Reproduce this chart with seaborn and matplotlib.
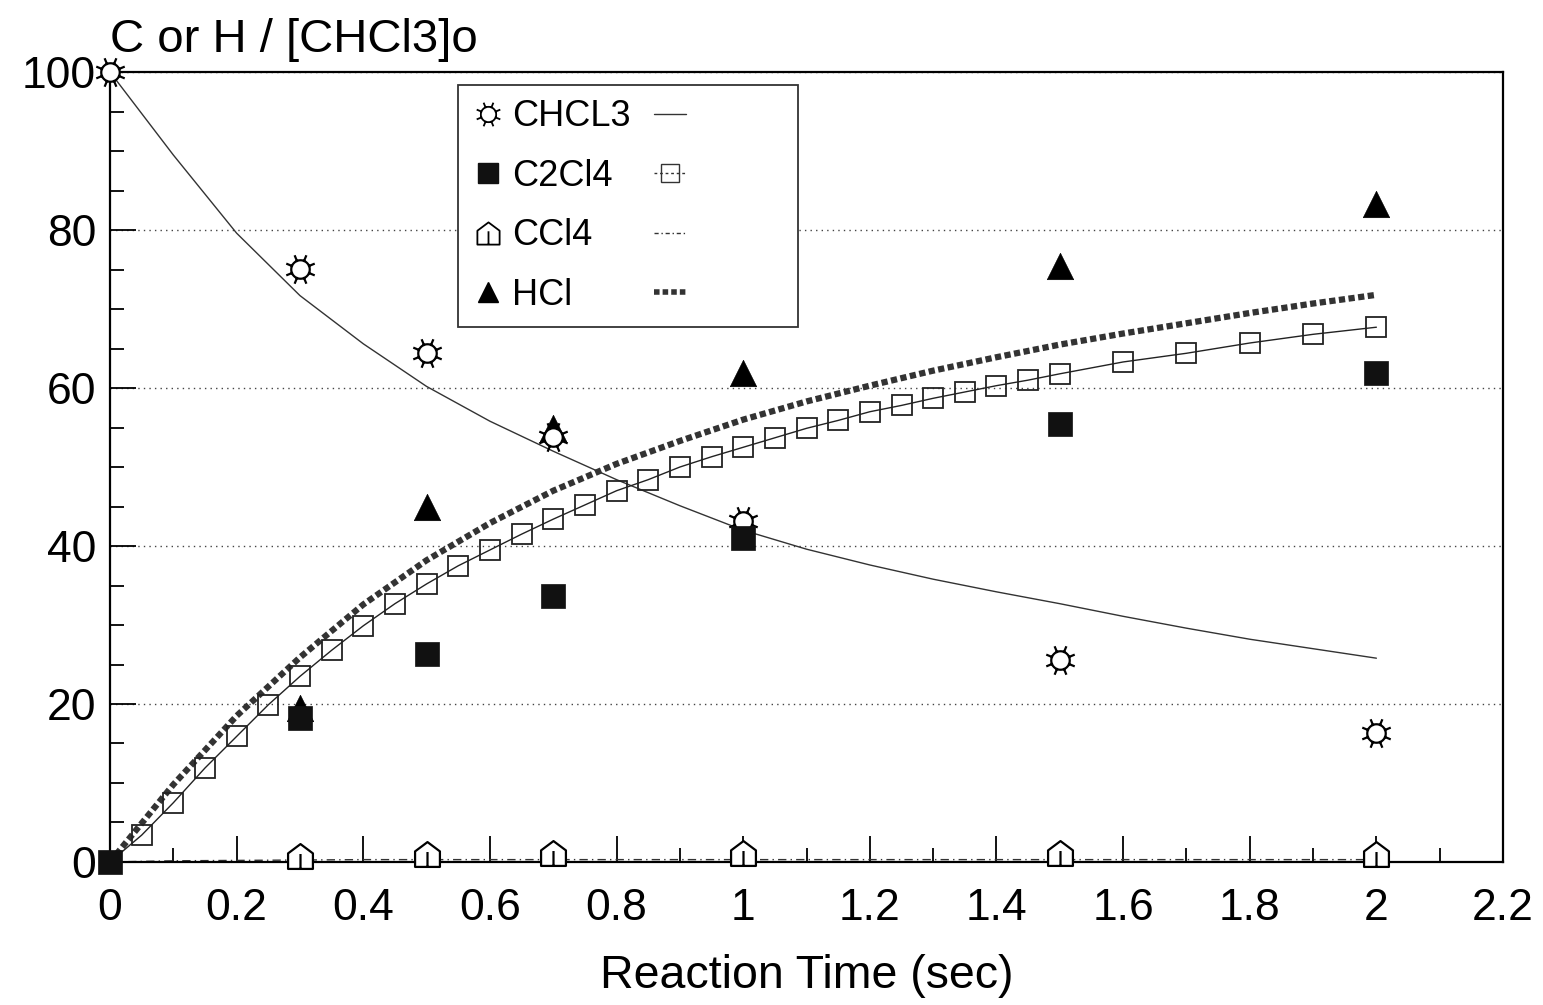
import numpy as np
import pandas as pd
import matplotlib
matplotlib.use("Agg")
import matplotlib.pyplot as plt
from matplotlib.path import Path
from matplotlib.lines import Line2D
from matplotlib.ticker import MultipleLocator
import seaborn as sns

# Measured concentrations (% of initial CHCl3)
t_meas = [0.0, 0.3, 0.5, 0.7, 1.0, 1.5, 2.0]
chcl3_meas = [100.0, 75.1, 64.4, 53.8, 43.2, 25.6, 16.3]
c2cl4_meas = [0.0, 18.2, 26.3, 33.7, 41.0, 55.4, 61.9]
t_ccl4 = [0.3, 0.5, 0.7, 1.0, 1.5, 2.0]
ccl4_meas = [0.8, 1.0, 1.2, 1.1, 1.1, 1.0]
t_hcl = [0.3, 0.5, 0.7, 1.0, 1.5, 2.0]
hcl_meas = [19.5, 45.0, 55.0, 61.9, 75.4, 83.3]

# Model predictions
t_model = [0.0, 0.1, 0.2, 0.3, 0.4, 0.5, 0.6, 0.7, 0.8, 0.9, 1.0,
           1.1, 1.2, 1.3, 1.4, 1.5, 1.6, 1.7, 1.8, 1.9, 2.0]
chcl3_model = [100.0, 89.5, 79.6, 71.7, 65.6, 60.2, 55.8, 52.0, 48.4, 45.1, 42.0,
               39.6, 37.6, 35.8, 34.2, 32.7, 31.1, 29.6, 28.2, 27.0, 25.8]
hcl_model = [0.0, 9.8, 18.5, 25.9, 32.6, 38.2, 42.9, 47.0, 50.4, 53.3, 56.0,
             58.3, 60.3, 62.2, 63.9, 65.5, 66.9, 68.2, 69.5, 70.7, 71.8]
ccl4_model = [0.0, 0.15, 0.2, 0.25, 0.3, 0.3, 0.3, 0.3, 0.3, 0.3, 0.3,
              0.3, 0.3, 0.3, 0.3, 0.3, 0.3, 0.3, 0.3, 0.3, 0.3]
t_c2cl4_model = [0.0, 0.05, 0.1, 0.15, 0.2, 0.25, 0.3, 0.35, 0.4, 0.45, 0.5,
                 0.55, 0.6, 0.65, 0.7, 0.75, 0.8, 0.85, 0.9, 0.95, 1.0,
                 1.05, 1.1, 1.15, 1.2, 1.25, 1.3, 1.35, 1.4, 1.45, 1.5,
                 1.6, 1.7, 1.8, 1.9, 2.0]
c2cl4_model = [0.0, 3.4, 7.5, 11.9, 15.9, 19.9, 23.5, 26.8, 29.9, 32.7, 35.2,
               37.5, 39.5, 41.5, 43.4, 45.2, 47.0, 48.4, 50.0, 51.3, 52.5,
               53.7, 54.9, 55.9, 57.0, 57.8, 58.7, 59.5, 60.3, 61.0, 61.8,
               63.3, 64.4, 65.7, 66.8, 67.7]

x_ticks = [0.0, 0.2, 0.4, 0.6, 0.8, 1.0, 1.2, 1.4, 1.6, 1.8, 2.0, 2.2]
x_tick_labels = ["0", "0.2", "0.4", "0.6", "0.8", "1", "1.2", "1.4", "1.6", "1.8", "2", "2.2"]
y_ticks = [0, 20, 40, 60, 80, 100]
series_names = ["CHCL3", "C2Cl4", "CCl4", "HCl"]

sns.set_theme(style="ticks")
plt.rcParams["font.family"] = ["Liberation Sans", "DejaVu Sans"]
plt.rcParams["text.color"] = "black"
plt.rcParams["axes.labelcolor"] = "black"
plt.rcParams["xtick.color"] = "black"
plt.rcParams["ytick.color"] = "black"


def sun_marker():
    r0, r1 = 0.6, 1.0
    circ = Path.unit_circle()
    circle = Path(circ.vertices * r0, circ.codes)
    rays = []
    for a in np.deg2rad(np.arange(0, 360, 45) + 22.5):
        rays.append(Path([(r0 * np.cos(a), r0 * np.sin(a)),
                          (r1 * np.cos(a), r1 * np.sin(a))],
                         [Path.MOVETO, Path.LINETO]))
    return Path.make_compound_path(circle, *rays)


def house_marker():
    verts = [(-1, -1), (1, -1), (1, 0.25), (0, 1), (-1, 0.25), (-1, -1),
             (0, 0.2), (0, -1)]
    codes = [Path.MOVETO, Path.LINETO, Path.LINETO, Path.LINETO, Path.LINETO,
             Path.CLOSEPOLY, Path.MOVETO, Path.LINETO]
    return Path(verts, codes)


SUN = sun_marker()
HOUSE = house_marker()
HATCH = (0, (1.0, 0.55))

fig = plt.figure(figsize=(15.43, 10.05), dpi=100)
ax = fig.add_axes([0.0713, 0.1423, 0.9028, 0.786])

# Model curves
sns.lineplot(x=t_model, y=chcl3_model, ax=ax, color="#333333", linewidth=1.0,
             zorder=2)
sns.lineplot(x=t_model, y=ccl4_model, ax=ax, color="#333333", linewidth=1.0,
             linestyle=(0, (6, 3, 1, 3)), zorder=2)
sns.lineplot(x=t_model, y=hcl_model, ax=ax, color="#333333", linewidth=4.5,
             linestyle=HATCH, zorder=2)
sns.lineplot(x=t_c2cl4_model, y=c2cl4_model, ax=ax, color="#222222", linewidth=1.0,
             marker="s", markersize=15, markerfacecolor="none",
             markeredgecolor="#222222", markeredgewidth=1.3, zorder=3)

# Measured points
sns.scatterplot(x=t_hcl, y=hcl_meas, ax=ax, marker="^", s=360, color="black",
                edgecolor="black", linewidth=0.5, zorder=4, clip_on=False)
sns.scatterplot(x=t_meas, y=chcl3_meas, ax=ax, marker=SUN, s=420, color="white",
                edgecolor="black", linewidth=1.6, zorder=5, clip_on=False)
sns.scatterplot(x=t_ccl4, y=ccl4_meas, ax=ax, marker=HOUSE, s=320, color="white",
                edgecolor="black", linewidth=1.6, zorder=5, clip_on=False)
sns.scatterplot(x=t_meas, y=c2cl4_meas, ax=ax, marker="s", s=310, color="#111111",
                edgecolor="#111111", linewidth=0.5, zorder=6, clip_on=False)

ax.set_xlim(0, 2.2)
ax.set_ylim(0, 100)
ax.set_xticks(x_ticks, x_tick_labels)
ax.set_yticks(y_ticks, [str(v) for v in y_ticks])
ax.xaxis.set_minor_locator(MultipleLocator(0.1))
ax.yaxis.set_minor_locator(MultipleLocator(5))
ax.tick_params(which="major", direction="in", length=19, width=1.3,
               labelsize=32, colors="black")
ax.tick_params(which="minor", direction="in", length=10, width=1.3)
ax.tick_params(top=False, right=False, which="both")
ax.tick_params(axis="x", pad=19)
ax.tick_params(axis="y", pad=10)
for sp in ax.spines.values():
    sp.set_visible(True)
    sp.set_linewidth(1.6)
    sp.set_color("black")
ax.yaxis.grid(True, linestyle=(0, (1.0, 3.0)), color="#444444", linewidth=1.0)
ax.xaxis.grid(False)
ax.set_axisbelow(True)

ax.set_xlabel("Reaction Time (sec)", fontsize=33.5, labelpad=18, color="black")
ax.set_ylabel("")
ax.text(0.0, 1.026, "C or H / [CHCl3]o", transform=ax.transAxes,
        ha="left", va="baseline", fontsize=34, color="black")

# Legend: symbol + name, then the model line style
marker_handles = [
    Line2D([], [], linestyle="none", marker=SUN, markersize=17,
           markerfacecolor="white", markeredgecolor="black", markeredgewidth=1.3),
    Line2D([], [], linestyle="none", marker="s", markersize=14,
           markerfacecolor="#111111", markeredgecolor="#111111"),
    Line2D([], [], linestyle="none", marker=HOUSE, markersize=16,
           markerfacecolor="white", markeredgecolor="black", markeredgewidth=1.3),
    Line2D([], [], linestyle="none", marker="^", markersize=15,
           markerfacecolor="black", markeredgecolor="black"),
]
line_handles = [
    Line2D([], [], color="#333333", linewidth=1.0),
    Line2D([], [], color="#333333", linewidth=1.0, linestyle=(0, (2, 2)),
           marker="s", markersize=13, markerfacecolor="none",
           markeredgecolor="#333333", markeredgewidth=1.0),
    Line2D([], [], color="#333333", linewidth=1.0, linestyle=(0, (3, 2, 1, 2))),
    Line2D([], [], color="#333333", linewidth=4.0, linestyle=HATCH),
]
pad_label = "\u2002" * 5
leg = ax.legend(marker_handles + line_handles,
                series_names + [pad_label] * 4,
                ncol=2, loc="upper left", bbox_to_anchor=(0.25, 0.983),
                fontsize=26, frameon=True, fancybox=False, framealpha=1,
                edgecolor="#333333", handlelength=0.9, handletextpad=0.2,
                columnspacing=0.65, labelspacing=0.68, borderpad=0.38,
                borderaxespad=0.0, numpoints=1)
leg.get_frame().set_linewidth(1.3)
for txt in leg.get_texts():
    txt.set_color("black")

fig.savefig("out.png", dpi=100, facecolor="white")
